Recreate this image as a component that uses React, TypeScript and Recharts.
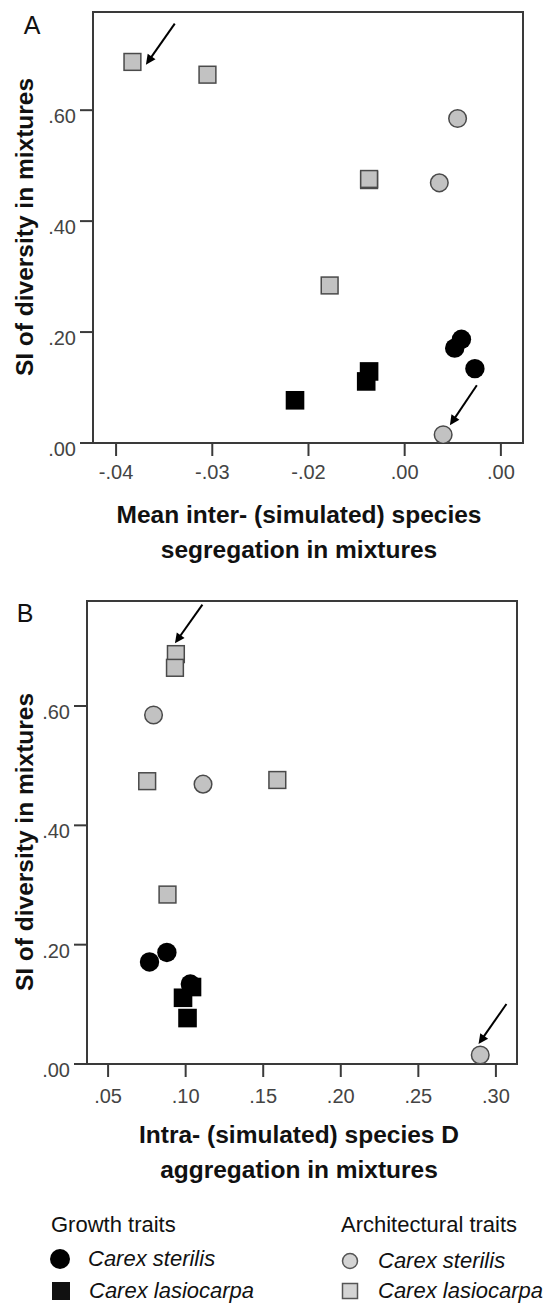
import React from "react";
import { ScatterChart, Scatter, XAxis, YAxis, ReferenceArea, ReferenceLine } from "recharts";

const FONT = '"Liberation Sans", Arial, sans-serif';

// SI of diversity in mixtures (same y values in both panels)
const growthSterilisY = [0.187, 0.171, 0.134];
const growthLasioY = [0.129, 0.111, 0.077];
const archSterilisY = [0.585, 0.469, 0.015];
const archLasioY = [0.687, 0.664, 0.474, 0.476, 0.284];

// panel A x: mean inter- (simulated) species segregation
const segGrowthSterilis = [-0.0041, -0.0048, -0.0027];
const segGrowthLasio = [-0.0137, -0.014, -0.0214];
const segArchSterilis = [-0.0045, -0.0064, -0.006];
const segArchLasio = [-0.0383, -0.0305, -0.0137, -0.0137, -0.0178];

// panel B x: intra- (simulated) species D aggregation
const aggGrowthSterilis = [0.0879, 0.0767, 0.103];
const aggGrowthLasio = [0.1041, 0.0983, 0.1012];
const aggArchSterilis = [0.0793, 0.1112, 0.2899];
const aggArchLasio = [0.0937, 0.0931, 0.0752, 0.1591, 0.0883];

const yTicks = [0, 0.2, 0.4, 0.6];
const yTickLabels = [".00", ".20", ".40", ".60"];
const segTicks = [-0.04, -0.03, -0.02, -0.01, 0];
const segTickLabels = ["-.04", "-.03", "-.02", ".00", ".00"];
const aggTicks = [0.05, 0.1, 0.15, 0.2, 0.25, 0.3];
const aggTickLabels = [".05", ".10", ".15", ".20", ".25", ".30"];

// arrows pointing at the highlighted mixtures: [x1, y1, x2, y2] in data units
const segArrows = [
  [-0.0339, 0.756, -0.0369, 0.682],
  [-0.0025, 0.104, -0.0053, 0.032],
];
const aggArrows = [
  [0.1108, 0.77, 0.0931, 0.705],
  [0.3068, 0.1006, 0.2888, 0.0335],
];

const AXIS = "#3a3a3a";
const GRAY = "#c2c2c2";

const zip = (xs: number[], ys: number[]) => xs.map((x, i) => ({ x, y: ys[i] }));

const BlackCircle = (p: any) => <circle cx={p.cx} cy={p.cy} r={9.7} fill="#000" />;
const BlackSquare = (p: any) => <rect x={p.cx - 9.3} y={p.cy - 9.3} width={18.6} height={18.6} fill="#000" />;
const GrayCircle = (p: any) => (
  <circle cx={p.cx} cy={p.cy} r={8.8} fill={GRAY} stroke="#4a4a4a" strokeWidth={1.5} />
);
const GraySquare = (p: any) => (
  <rect x={p.cx - 8.4} y={p.cy - 8.4} width={16.8} height={16.8} fill={GRAY} stroke="#4a4a4a" strokeWidth={1.5} />
);

const Arrow = (p: any) => {
  const { x1, y1, x2, y2 } = p;
  const a = Math.atan2(y2 - y1, x2 - x1);
  const len = 11;
  const w = 0.45;
  const ax = x2 - len * Math.cos(a - w);
  const ay = y2 - len * Math.sin(a - w);
  const bx = x2 - len * Math.cos(a + w);
  const by = y2 - len * Math.sin(a + w);
  return (
    <g>
      <line x1={x1} y1={y1} x2={x2 - 5 * Math.cos(a)} y2={y2 - 5 * Math.sin(a)} stroke="#000" strokeWidth={2} />
      <polygon points={`${x2},${y2} ${ax},${ay} ${bx},${by}`} fill="#000" />
    </g>
  );
};

const YTick = (p: any) => (
  <text x={p.x} y={p.y + 6} dy="0.35em" textAnchor="end" fontSize={20} fontFamily={FONT} fill="#444">
    {yTickLabels[yTicks.indexOf(p.payload.value)]}
  </text>
);

const makeXTick = (ticks: number[], labels: string[]) => (p: any) => (
  <text x={p.x} y={p.y} dy="0.71em" textAnchor="middle" fontSize={20} fontFamily={FONT} fill="#444">
    {labels[ticks.indexOf(p.payload.value)]}
  </text>
);

type PanelProps = {
  top: number;
  margin: { top: number; right: number; bottom: number; left: number };
  xDomain: [number, number];
  yTop: number;
  xTicks: number[];
  xLabels: string[];
  xTickMargin: number;
  gs: number[];
  gl: number[];
  as: number[];
  al: number[];
  arrows: number[][];
};

function Panel(props: PanelProps) {
  const { top, margin, xDomain, yTop, xTicks, xLabels, xTickMargin, gs, gl, as, al, arrows } = props;
  return (
    <div style={{ position: "absolute", left: 0, top }}>
      <ScatterChart width={551} height={560} margin={margin}>
        <XAxis
          type="number"
          dataKey="x"
          domain={xDomain}
          allowDataOverflow
          ticks={xTicks}
          axisLine={false}
          tickLine={{ stroke: AXIS, strokeWidth: 2 }}
          tickSize={13}
          tickMargin={xTickMargin}
          height={50}
          tick={makeXTick(xTicks, xLabels)}
        />
        <YAxis
          type="number"
          dataKey="y"
          domain={[0, yTop]}
          allowDataOverflow
          ticks={yTicks}
          axisLine={false}
          tickLine={{ stroke: AXIS, strokeWidth: 2 }}
          tickSize={13}
          tickMargin={4}
          width={60}
          tick={YTick}
        />
        <ReferenceArea x1={xDomain[0]} x2={xDomain[1]} y1={0} y2={yTop} fill="none" stroke={AXIS} strokeWidth={2} />
        <Scatter data={zip(gs, growthSterilisY)} shape={BlackCircle} isAnimationActive={false} />
        <Scatter data={zip(gl, growthLasioY)} shape={BlackSquare} isAnimationActive={false} />
        <Scatter data={zip(as, archSterilisY)} shape={GrayCircle} isAnimationActive={false} />
        <Scatter data={zip(al, archLasioY)} shape={GraySquare} isAnimationActive={false} />
        {arrows.map((a, i) => (
          <ReferenceLine
            key={i}
            segment={[{ x: a[0], y: a[1] }, { x: a[2], y: a[3] }]}
            shape={Arrow}
            ifOverflow="visible"
          />
        ))}
      </ScatterChart>
    </div>
  );
}

const centered = (x: number, y: number, extra: React.CSSProperties = {}): React.CSSProperties => ({
  position: "absolute",
  left: x,
  top: y,
  transform: "translate(-50%, -50%)",
  whiteSpace: "nowrap",
  ...extra,
});

const titleStyle: React.CSSProperties = { fontSize: 24.5, fontWeight: "bold", color: "#111", lineHeight: 1 };

function LegendRow({ x, y, icon, text }: { x: number; y: number; icon: React.ReactNode; text: string }) {
  return (
    <>
      <svg style={{ position: "absolute", left: x - 12, top: y - 12 }} width={24} height={24}>
        {icon}
      </svg>
      <div style={{ position: "absolute", left: x + 28, top: y - 11, fontSize: 22, fontStyle: "italic", lineHeight: 1, color: "#111", whiteSpace: "nowrap" }}>
        {text}
      </div>
    </>
  );
}

export default function App() {
  return (
    <div style={{ position: "absolute", left: 0, top: 0, width: 551, height: 1306, background: "#fff", fontFamily: FONT, overflow: "hidden" }}>
      <Panel
        top={0}
        margin={{ top: 12, right: 28, bottom: 67, left: 33 }}
        xDomain={[-0.0424, 0.0023]}
        yTop={0.777}
        xTicks={segTicks}
        xLabels={segTickLabels}
        xTickMargin={9}
        gs={segGrowthSterilis}
        gl={segGrowthLasio}
        as={segArchSterilis}
        al={segArchLasio}
        arrows={segArrows}
      />
      <Panel
        top={580}
        margin={{ top: 21, right: 34, bottom: 26, left: 27 }}
        xDomain={[0.0364, 0.3136]}
        yTop={0.776}
        xTicks={aggTicks}
        xLabels={aggTickLabels}
        xTickMargin={12}
        gs={aggGrowthSterilis}
        gl={aggGrowthLasio}
        as={aggArchSterilis}
        al={aggArchLasio}
        arrows={aggArrows}
      />

      <div style={centered(32, 25, { fontSize: 25, color: "#111" })}>A</div>
      <div style={centered(25, 613, { fontSize: 25, color: "#111" })}>B</div>

      <div style={centered(25, 227, { ...titleStyle, transform: "translate(-50%, -50%) rotate(-90deg)" })}>
        SI of diversity in mixtures
      </div>
      <div style={centered(25, 842, { ...titleStyle, transform: "translate(-50%, -50%) rotate(-90deg)" })}>
        SI of diversity in mixtures
      </div>

      <div style={centered(299, 515, titleStyle)}>Mean inter- (simulated) species</div>
      <div style={centered(299, 550, titleStyle)}>segregation in mixtures</div>
      <div style={centered(299, 1135, titleStyle)}>Intra- (simulated) species D</div>
      <div style={centered(299, 1170, titleStyle)}>aggregation in mixtures</div>

      <div style={{ position: "absolute", left: 51, top: 1214, fontSize: 22, lineHeight: 1, color: "#111" }}>Growth traits</div>
      <div style={{ position: "absolute", left: 341, top: 1214, fontSize: 22, lineHeight: 1, color: "#111" }}>Architectural traits</div>
      <LegendRow x={60} y={1259} icon={<circle cx={12} cy={12} r={10} fill="#000" />} text="Carex sterilis" />
      <LegendRow x={61} y={1291} icon={<rect x={3} y={3} width={18} height={18} fill="#111" />} text="Carex lasiocarpa" />
      <LegendRow
        x={350}
        y={1261}
        icon={<circle cx={12} cy={12} r={7.5} fill="#d4d4d4" stroke="#555" strokeWidth={1.5} />}
        text="Carex sterilis"
      />
      <LegendRow
        x={350}
        y={1291}
        icon={<rect x={4.5} y={4.5} width={15} height={15} fill="#d4d4d4" stroke="#555" strokeWidth={1.5} />}
        text="Carex lasiocarpa"
      />
    </div>
  );
}
